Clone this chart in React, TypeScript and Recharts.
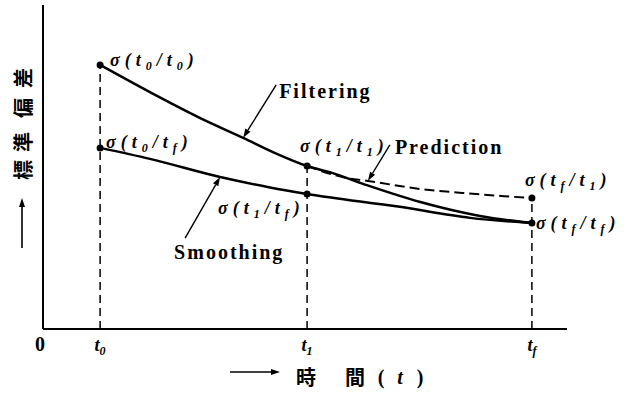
import React from 'react'
import {
  ComposedChart, Line, XAxis, YAxis, ReferenceLine, ReferenceDot,
} from 'recharts'

// time instants on the horizontal axis
const T0 = 1.09
const T1 = 5.04
const TF = 9.33

// standard deviation curves (t, value)
const filtering = [
  { t: T0, v: 8.15 },
  { t: 2.04, v: 7.31 },
  { t: 3.0, v: 6.51 },
  { t: 3.82, v: 5.9 },
  { t: 4.43, v: 5.43 },
  { t: T1, v: 5.03 },
  { t: 5.53, v: 4.81 },
  { t: 6.18, v: 4.44 },
  { t: 7.2, v: 3.92 },
  { t: 8.34, v: 3.49 },
  { t: TF, v: 3.27 },
]

const smoothing = [
  { t: T0, v: 5.59 },
  { t: 2.04, v: 5.25 },
  { t: 3.38, v: 4.69 },
  { t: 4.33, v: 4.37 },
  { t: T1, v: 4.17 },
  { t: 6.81, v: 3.77 },
  { t: 8.15, v: 3.43 },
  { t: TF, v: 3.27 },
]

const prediction = [
  { t: T1, v: 5.03 },
  { t: 5.8, v: 4.66 },
  { t: 6.2, v: 4.57 },
  { t: 7.2, v: 4.32 },
  { t: 8.0, v: 4.2 },
  { t: 8.8, v: 4.1 },
  { t: TF, v: 4.04 },
]

const tickValues = [0, T0, T1, TF]
const tickNames = [['0', ''], ['t', '0'], ['t', '1'], ['t', 'f']]

// marked points sigma(a/b)
const marked = [
  { t: T0, v: 8.15, a: '0', b: '0' },
  { t: T0, v: 5.59, a: '0', b: 'f' },
  { t: T1, v: 5.03, a: '1', b: '1' },
  { t: T1, v: 4.17, a: '1', b: 'f' },
  { t: TF, v: 4.04, a: 'f', b: '1' },
  { t: TF, v: 3.27, a: 'f', b: 'f' },
]
const markedLabelOffset = [
  [10, 1], [6, 0], [-7, -14], [-89, 20], [-7, -12], [4, 6],
]

// vertical guides, from the axis up to the topmost marked point
const guides = [
  { t: T0, top: 8.15 },
  { t: T1, top: 5.03 },
  { t: TF, top: 4.04 },
]

const notes = [
  { name: 'Filtering', at: filtering[3] },
  { name: 'Prediction', at: prediction[2] },
  { name: 'Smoothing', at: smoothing[2] },
]
// [tailDx, tailDy, textDx, textDy]
const noteOffset = [
  [33, -53, 36, -40],
  [22, -36, 27, -27],
  [-35, 61, -46, 82],
]

const SERIF = '"Liberation Serif", "Times New Roman", serif'
const CJK = '"Noto Sans CJK JP", sans-serif'

function Arrow({ x1, y1, x2, y2, width = 1.4 }: any) {
  const a = Math.atan2(y2 - y1, x2 - x1)
  const len = 9
  const half = 3
  const bx = x2 - len * Math.cos(a)
  const by = y2 - len * Math.sin(a)
  const px = -Math.sin(a) * half
  const py = Math.cos(a) * half
  return (
    <g>
      <line x1={x1} y1={y1} x2={bx} y2={by} stroke="#000" strokeWidth={width} />
      <polygon points={`${x2},${y2} ${bx + px},${by + py} ${bx - px},${by - py}`} fill="#000" />
    </g>
  )
}

function SigmaText({ x, y, a, b }: any) {
  return (
    <text x={x} y={y} fontFamily={SERIF} fontSize={18} fontStyle="italic" fontWeight="bold" letterSpacing={5} fill="#000">
      <tspan>σ(t</tspan>
      <tspan dy={4} fontSize={12}>{a}</tspan>
      <tspan dy={-4}>/t</tspan>
      <tspan dy={4} fontSize={12}>{b}</tspan>
      <tspan dy={-4}>)</tspan>
    </text>
  )
}

const TimeTick = ({ x, y, index }: any) => {
  const [main, sub] = tickNames[index] || ['', '']
  return (
    <text x={sub ? x : x - 3} y={y + 22} textAnchor="middle" fontFamily={SERIF} fontSize={sub ? 18 : 20} fontWeight="bold"
      fontStyle={sub ? 'italic' : 'normal'} fill="#000">
      <tspan>{main}</tspan>
      {sub && <tspan dy={4} fontSize={12}>{sub}</tspan>}
    </text>
  )
}

const TimeLabel = ({ viewBox }: any) => {
  const { x, y } = viewBox
  const base = y + 56
  return (
    <g>
      <Arrow x1={x + 187} y1={y + 43} x2={x + 237} y2={y + 43} width={1.6} />
      <text x={x + 263} y={base} textAnchor="middle" fontFamily={CJK} fontSize={20} fontWeight="bold">時</text>
      <text x={x + 312} y={base} textAnchor="middle" fontFamily={CJK} fontSize={20} fontWeight="bold">間</text>
      <text x={x + 338} y={base - 1} textAnchor="middle" fontFamily={SERIF} fontSize={20} fontWeight="bold">(</text>
      <text x={x + 357} y={base - 1} textAnchor="middle" fontFamily={SERIF} fontSize={20} fontWeight="bold" fontStyle="italic">t</text>
      <text x={x + 377} y={base - 1} textAnchor="middle" fontFamily={SERIF} fontSize={20} fontWeight="bold">)</text>
    </g>
  )
}

const SigmaLabel = ({ viewBox }: any) => {
  const { x, y } = viewBox
  const cx = x + 19
  const chars = [['標', 165], ['準', 137], ['偏', 103], ['差', 73]] as const
  return (
    <g>
      <Arrow x1={cx} y1={y + 243} x2={cx} y2={y + 193} width={1.6} />
      {chars.map(([c, dy]) => (
        <text key={c} x={cx} y={y + dy} textAnchor="middle" dominantBaseline="central"
          transform={`rotate(-90, ${cx}, ${y + dy})`} fontFamily={CJK} fontSize={20} fontWeight="bold">
          {c}
        </text>
      ))}
    </g>
  )
}

export default function App() {
  return (
    <div style={{ position: 'absolute', left: 0, top: 0, background: '#fff' }}>
      <ComposedChart width={640} height={394} margin={{ top: 5, right: 73, bottom: 0, left: 3 }}>
        <XAxis
          type="number"
          dataKey="t"
          domain={[0, 10]}
          ticks={tickValues}
          tick={<TimeTick />}
          tickLine={false}
          tickSize={0}
          tickMargin={0}
          height={65}
          axisLine={{ stroke: '#000', strokeWidth: 2 }}
          label={{ content: <TimeLabel /> }}
          allowDataOverflow
        />
        <YAxis
          type="number"
          domain={[0, 10]}
          tick={false}
          tickLine={false}
          width={40}
          axisLine={{ stroke: '#000', strokeWidth: 2 }}
          label={{ content: <SigmaLabel /> }}
          allowDataOverflow
        />
        {guides.map((g) => (
          <ReferenceLine
            key={g.t}
            segment={[{ x: g.t, y: 0 }, { x: g.t, y: g.top }]}
            stroke="#000"
            strokeWidth={1.5}
            strokeDasharray="8 5"
            ifOverflow="visible"
          />
        ))}
        <Line data={filtering} dataKey="v" type="monotone" stroke="#000" strokeWidth={2.5}
          dot={false} activeDot={false} isAnimationActive={false} />
        <Line data={smoothing} dataKey="v" type="monotone" stroke="#000" strokeWidth={2.5}
          dot={false} activeDot={false} isAnimationActive={false} />
        <Line data={prediction} dataKey="v" type="monotone" stroke="#000" strokeWidth={2}
          strokeDasharray="10 5" dot={false} activeDot={false} isAnimationActive={false} />
        {marked.map((m, i) => (
          <ReferenceDot
            key={`${m.a}${m.b}`}
            x={m.t}
            y={m.v}
            r={3.5}
            ifOverflow="visible"
            shape={(p: any) => (
              <g>
                <circle cx={p.cx} cy={p.cy} r={3.5} fill="#000" />
                <SigmaText x={p.cx + markedLabelOffset[i][0]} y={p.cy + markedLabelOffset[i][1]} a={m.a} b={m.b} />
              </g>
            )}
          />
        ))}
        {notes.map((n, i) => {
          const [tx, ty, lx, ly] = noteOffset[i]
          return (
            <ReferenceDot
              key={n.name}
              x={n.at.t}
              y={n.at.v}
              r={0}
              ifOverflow="visible"
              shape={(p: any) => (
                <g>
                  <Arrow x1={p.cx + tx} y1={p.cy + ty} x2={p.cx} y2={p.cy} />
                  <text x={p.cx + lx} y={p.cy + ly} fontFamily={SERIF} fontSize={20} fontWeight="bold"
                    letterSpacing={2} fill="#000">
                    {n.name}
                  </text>
                </g>
              )}
            />
          )
        })}
      </ComposedChart>
    </div>
  )
}
